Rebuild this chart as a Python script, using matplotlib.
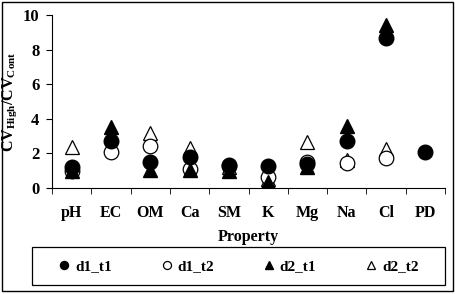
import numpy as np
import matplotlib.pyplot as plt
from matplotlib.patches import Rectangle

plt.rcParams['font.family'] = ['Liberation Serif', 'DejaVu Serif']
plt.rcParams['font.weight'] = 'bold'
plt.rcParams['mathtext.fontset'] = 'custom'
plt.rcParams['mathtext.rm'] = 'Liberation Serif:bold'
plt.rcParams['mathtext.bf'] = 'Liberation Serif:bold'
plt.rcParams['mathtext.it'] = 'Liberation Serif:bold'

properties = ['pH', 'EC', 'OM', 'Ca', 'SM', 'K', 'Mg', 'Na', 'Cl', 'PD']
d1_t1 = [1.2, 2.7, 1.5, 1.8, 1.3, 1.25, 1.4, 2.7, 8.65, 2.1]
d1_t2 = [0.95, 2.1, 2.45, 1.1, 1.25, 0.6, 1.5, 1.45, 1.7, np.nan]
d2_t1 = [1.0, 3.5, 1.05, 1.05, 1.0, 0.35, 1.2, 3.6, 9.4, np.nan]
d2_t2 = [2.35, 2.5, 3.2, 2.3, 1.2, 0.5, 2.65, 1.6, 2.25, np.nan]

fig = plt.figure(figsize=(4.56, 2.94), dpi=100)
ax = fig.add_axes([0.114, 0.361, 0.862, 0.588])

x = np.arange(len(properties)) + 0.5
ms = 10.5
ax.plot(x, d2_t2, '^', ms=ms, mfc='white', mec='black', mew=0.9, label='d2_t2', zorder=2)
ax.plot(x, d1_t2, 'o', ms=ms, mfc='white', mec='black', mew=0.9, label='d1_t2', zorder=3)
ax.plot(x, d2_t1, '^', ms=ms, mfc='black', mec='black', label='d2_t1', zorder=4)
ax.plot(x, d1_t1, 'o', ms=ms, mfc='black', mec='black', label='d1_t1', zorder=5)

ax.set_xlim(0, 10)
ax.set_ylim(0, 10)
ax.set_yticks([0, 2, 4, 6, 8, 10])
ax.set_xticks(x)
ax.set_xticklabels(properties)
ax.set_xticks(np.arange(0, 11), minor=True)
ax.tick_params(axis='x', which='major', length=0, pad=12, labelsize=11.5)
ax.tick_params(axis='x', which='minor', length=4, direction='out')
ax.tick_params(axis='y', length=4, direction='out', labelsize=12, pad=5)
for s in ['top', 'right']:
    ax.spines[s].set_visible(False)
ax.set_xlabel('Property', fontsize=11.5, fontweight='bold', labelpad=6)
ax.set_ylabel(r'$\mathrm{CV_{High}/CV_{Cont}}$', fontsize=11.5, labelpad=2)
ax.yaxis.set_label_coords(-0.085, 0.5)

# legend box drawn separately so entries can sit inside it like the original
box = Rectangle((0.07, 0.03), 0.906, 0.13, transform=fig.transFigure,
                fill=False, edgecolor='black', linewidth=0.9)
fig.patches.append(box)

handles, labels = ax.get_legend_handles_labels()
order = [3, 1, 2, 0]
leg = fig.legend([handles[i] for i in order], [labels[i] for i in order],
                 ncol=4, loc='center', bbox_to_anchor=(0.523, 0.095),
                 frameon=False, fontsize=11, markerscale=0.55,
                 handlelength=0.8, handletextpad=0.3, columnspacing=3.2)

fig.patches.append(Rectangle((0.005, 0.01), 0.989, 0.982, transform=fig.transFigure,
                             fill=False, edgecolor='black', linewidth=1.0))

fig.savefig('out.png', dpi=100)
